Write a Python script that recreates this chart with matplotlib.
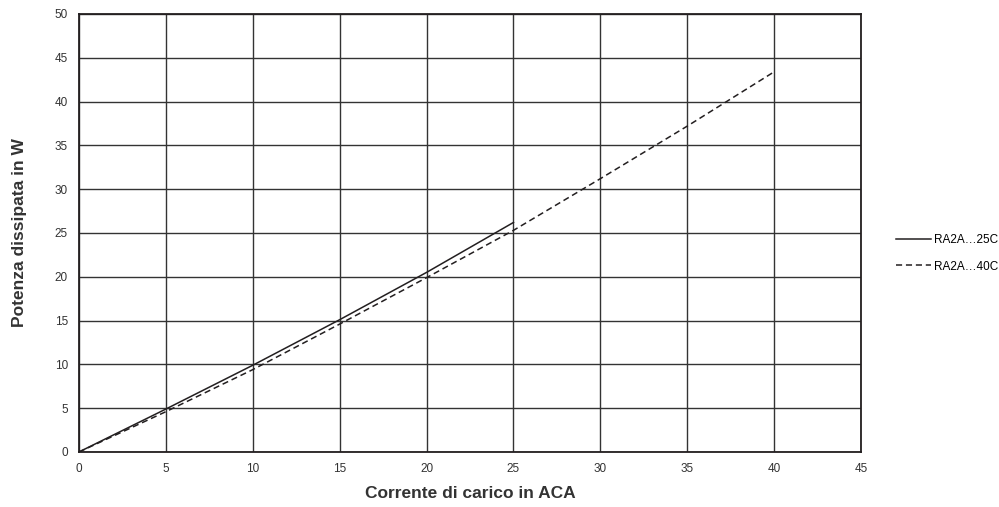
import matplotlib
matplotlib.use('Agg')
import matplotlib.pyplot as plt

plt.rcParams['font.family'] = ['Liberation Sans', 'DejaVu Sans']

# Dati
corrente_25 = [0, 5, 10, 15, 20, 25]
potenza_25 = [0, 4.9, 9.9, 15.1, 20.5, 26.2]
corrente_40 = [0, 5, 10, 15, 20, 25, 30, 35, 40]
potenza_40 = [0, 4.6, 9.4, 14.6, 19.9, 25.3, 31.2, 37.2, 43.4]
etichette = ['RA2A…25C', 'RA2A…40C']

fig = plt.figure(figsize=(9.99, 5.07), dpi=100)
ax = fig.add_axes([0.079, 0.1085, 0.783, 0.864])

ax.plot(corrente_25, potenza_25, color='#231f20', lw=1.1, ls='-', label=etichette[0])
ax.plot(corrente_40, potenza_40, color='#231f20', lw=1.1, ls=(0, (4, 2.5)), label=etichette[1])

ax.set_xlim(0, 45)
ax.set_ylim(0, 50)
ax.set_xticks(range(0, 46, 5))
ax.set_yticks(range(0, 51, 5))
ax.grid(True, color='#333333', lw=1.0)
ax.set_axisbelow(True)
for s in ax.spines.values():
    s.set_color('#231f20')
    s.set_linewidth(1.3)
ax.tick_params(length=0, labelsize=8.5, colors='#333333', pad=8)

ax.set_xlabel('Corrente di carico in ACA', fontsize=12.5, fontweight='bold', color='#333333', labelpad=8)
ax.set_ylabel('Potenza dissipata in W', fontsize=12.5, fontweight='bold', color='#333333', labelpad=20)

fig.legend(loc='center left', bbox_to_anchor=(0.886, 0.5), frameon=False, fontsize=8.5,
           handlelength=3, labelspacing=1.2, handletextpad=0.2)

fig.savefig('out.png', dpi=100)
